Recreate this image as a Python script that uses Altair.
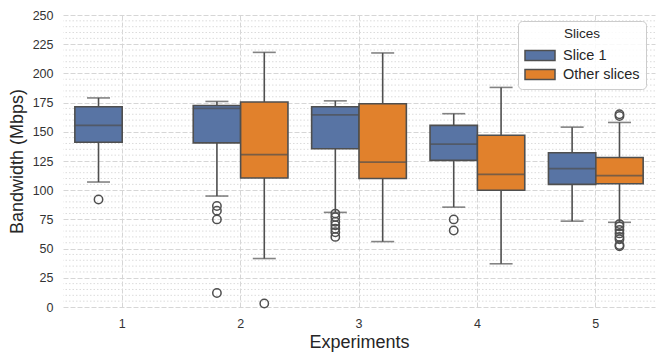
import altair as alt
import pandas as pd

# ---- data ----
experiments = ["1", "2", "3", "4", "5"]
slice_names = ["Slice 1", "Other slices"]

# Slice 1 box statistics per experiment (1..5)
s1_low = [107, 95, 81, 85.5, 73.5]
s1_q1 = [141, 140.5, 135.5, 125.5, 105]
s1_med = [155.5, 170, 164.5, 139.5, 118.5]
s1_q3 = [171.5, 172.5, 171.5, 155.5, 132]
s1_high = [179, 176, 176.5, 165.5, 154]

# Other slices box statistics per experiment (2..5)
ot_exps = ["2", "3", "4", "5"]
ot_low = [41.5, 56, 37, 72.5]
ot_q1 = [110.5, 110, 100, 105.5]
ot_med = [130.5, 124, 113.5, 112.5]
ot_q3 = [175.5, 174, 147, 128]
ot_high = [218, 217.5, 188, 158]

# outliers
s1_out_exp = ["1", "2", "2", "2", "2", "3", "3", "3", "3", "3", "3", "3", "4", "4"]
s1_out_val = [92, 86.5, 82.5, 75, 12, 80, 77, 73, 70, 67, 64, 60, 75, 65.5]
ot_out_exp = ["2", "5", "5", "5", "5", "5", "5", "5", "5", "5", "5"]
ot_out_val = [3, 165, 163.5, 71, 69, 66, 63, 60, 58, 53, 52]

minor_ticks = [v for v in range(0, 251, 5) if v % 25 != 0]
major_ticks = list(range(0, 251, 25))

# ---- tables ----
boxes = pd.DataFrame({
    "exp": experiments + ot_exps,
    "slice": ["Slice 1"] * len(experiments) + ["Other slices"] * len(ot_exps),
    "low": s1_low + ot_low,
    "q1": s1_q1 + ot_q1,
    "med": s1_med + ot_med,
    "q3": s1_q3 + ot_q3,
    "high": s1_high + ot_high,
})
outliers = pd.DataFrame({
    "exp": s1_out_exp + ot_out_exp,
    "slice": ["Slice 1"] * len(s1_out_exp) + ["Other slices"] * len(ot_out_exp),
    "val": s1_out_val + ot_out_val,
})
minor = pd.DataFrame({"v": minor_ticks})

FONT = "Liberation Sans"
LINE = "#4f4f4f"
BLUE = "#5874A4"
ORANGE = "#E1812C"

xscale = alt.Scale(type="band", domain=experiments, paddingInner=0, paddingOuter=0)
yscale = alt.Scale(domain=[0, 250], nice=False, zero=True)
offscale = alt.Scale(domain=slice_names, paddingInner=0, paddingOuter=0.25)

x_enc = alt.X("exp:N", scale=xscale, title="Experiments",
              axis=alt.Axis(labelAngle=0, grid=True, gridDash=[5, 2], gridColor="#d6d6d6",
                            gridWidth=1, bandPosition=0.5, ticks=False, domain=False,
                            labelPadding=10, labelFontSize=12.5, labelColor="#333333",
                            titleFontSize=18, titleFontWeight="normal", titleColor="#262626",
                            titlePadding=4, labelFont=FONT, titleFont=FONT))
xo_enc = alt.XOffset("slice:N", scale=offscale)

y_axis = alt.Axis(values=major_ticks, grid=True, gridDash=[5, 2], gridColor="#d6d6d6",
                  ticks=False, domain=False, labelPadding=10, labelFontSize=12.5,
                  labelOverlap=False,
                  labelColor="#333333", title="Bandwidth (Mbps)", titleFontSize=18,
                  titleFontWeight="normal", titleColor="#262626", titlePadding=6,
                  labelFont=FONT, titleFont=FONT)


def Y(field):
    return alt.Y(field, scale=yscale, axis=y_axis, title="Bandwidth (Mbps)")


base = alt.Chart(boxes)

minor_grid = alt.Chart(minor).mark_rule(color="#dcdcdc", strokeDash=[1.5, 2], strokeWidth=1).encode(
    y=Y("v:Q"))

whisk_lo = base.mark_rule(color=LINE, strokeWidth=1.6).encode(
    x=x_enc, xOffset=xo_enc, y=Y("low:Q"), y2="q1:Q")
whisk_hi = base.mark_rule(color=LINE, strokeWidth=1.6).encode(
    x=x_enc, xOffset=xo_enc, y=Y("q3:Q"), y2="high:Q")
cap_lo = base.mark_tick(color=LINE, size=23, thickness=1.6).encode(
    x=x_enc, xOffset=xo_enc, y=Y("low:Q"))
cap_hi = base.mark_tick(color=LINE, size=23, thickness=1.6).encode(
    x=x_enc, xOffset=xo_enc, y=Y("high:Q"))

box = base.mark_bar(stroke=LINE, strokeWidth=1.6, opacity=1).encode(
    x=x_enc, xOffset=xo_enc,
    y=Y("q1:Q"), y2="q3:Q",
    color=alt.Color("slice:N", scale=alt.Scale(domain=slice_names, range=[BLUE, ORANGE]),
                    legend=alt.Legend(title="Slices", orient="none", legendX=455, legendY=6,
                                      titleFontSize=13.5, titleFontWeight="normal", titleColor="#262626",
                                      titleAnchor="middle", labelFontSize=14.5, labelColor="#262626",
                                      labelFont=FONT, titleFont=FONT, titlePadding=4,
                                      symbolType="M-1.5,-0.5H1.5V0.5H-1.5Z", symbolSize=400,
                                      symbolStrokeColor=LINE, symbolStrokeWidth=1.5,
                                      symbolOffset=5, labelOffset=12, rowPadding=0,
                                      padding=6, strokeColor="#cccccc", cornerRadius=4,
                                      fillColor="rgba(255,255,255,0.85)")))
median = base.mark_tick(color=LINE, size=47, thickness=1.8).encode(
    x=x_enc, xOffset=xo_enc, y=Y("med:Q"))

pts = alt.Chart(outliers).mark_point(filled=False, color=LINE, size=70, strokeWidth=1.5, opacity=1).encode(
    x=x_enc, xOffset=xo_enc, y=Y("val:Q"))

chart = alt.layer(minor_grid, whisk_lo, whisk_hi, cap_lo, cap_hi, box, median, pts).properties(
    width=592, height=292,
    autosize=alt.AutoSizeParams(type="none"),
    padding={"left": 55, "top": 7, "right": 1, "bottom": 50},
    background="white",
).configure_view(stroke=None)

chart.save("out.html", embed_options={"renderer": "svg", "actions": False})
